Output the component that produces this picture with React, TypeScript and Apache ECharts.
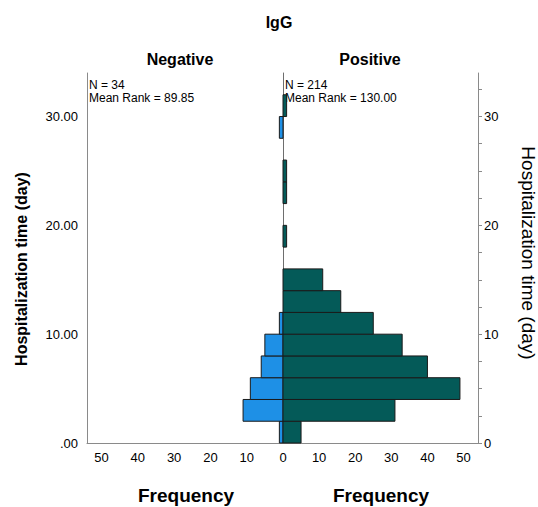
import React, { useEffect, useRef } from "react";
import * as echarts from "echarts";

// Histogram bins (days): each bin spans [start, start + 2)
const binStarts = [0, 2, 4, 6, 8, 10, 12, 14, 16, 18, 20, 22, 24, 26, 28, 30, 32];
const binWidth = 2;
const negativeCounts = [1, 11, 9, 6, 5, 1, 0, 0, 0, 0, 0, 0, 0, 0, 1, 0, 0];
const positiveCounts = [5, 31, 49, 40, 33, 25, 16, 11, 0, 1, 0, 1, 1, 0, 0, 1, 0];

const leftFreqTicks = [10, 20, 30, 40, 50];
const rightFreqTicks = [0, 10, 20, 30, 40, 50];
const leftDayTicks = [0, 10, 20, 30];
const rightDayLabels = [0, 10, 20, 30];
const rightDayTicks = [0, 2.5, 5, 7.5, 10, 12.5, 15, 17.5, 20, 22.5, 25, 27.5, 30, 32.5];

const negativeStats = ["N = 34", "Mean Rank = 89.85"];
const positiveStats = ["N = 214", "Mean Rank = 130.00"];

const FONT = "'Liberation Sans', Arial, sans-serif";
const AXIS_GREY = "#8a8a8a";

function buildData(counts: number[]) {
  return binStarts
    .map((s, i) => [s, s + binWidth, counts[i]])
    .filter((d) => d[2] > 0);
}

function renderBar(fill: string) {
  return (params: any, api: any) => {
    const y0 = api.value(0);
    const y1 = api.value(1);
    const c = api.value(2);
    const p0 = api.coord([0, y0]);
    const p1 = api.coord([c, y1]);
    const x = Math.min(p0[0], p1[0]);
    const y = Math.min(p0[1], p1[1]);
    return {
      type: "rect",
      shape: {
        x,
        y,
        width: Math.abs(p1[0] - p0[0]),
        height: Math.abs(p1[1] - p0[1]),
      },
      style: { fill, stroke: "#1a1a1a", lineWidth: 1 },
    };
  };
}

export default function App() {
  const ref = useRef<HTMLDivElement>(null);

  useEffect(() => {
    if (!ref.current) return;
    const chart = echarts.init(ref.current, null, { renderer: "svg" });

    const xBase = (gridIndex: number, inverse: boolean) => ({
      gridIndex,
      type: "value",
      min: 0,
      max: 54,
      interval: 10,
      inverse,
      axisLine: { show: true, onZero: false, lineStyle: { color: AXIS_GREY, width: 1 } },
      axisTick: { show: false },
      splitLine: { show: false },
      axisLabel: {
        color: "#000",
        fontSize: 13,
        fontFamily: FONT,
        margin: 8,
        customValues: inverse ? leftFreqTicks : rightFreqTicks,
      },
    });

    const statText = (x: number, lines: string[]) =>
      lines.map((t, i) => ({
        type: "text",
        x,
        y: 85 + i * 13,
        style: {
          text: t,
          fontSize: 12,
          fontFamily: FONT,
          fill: "#000",
          textAlign: "left",
          textVerticalAlign: "middle",
        },
      }));

    chart.setOption({
      animation: false,
      backgroundColor: "#fff",
      grid: [
        { left: 87, top: 73, width: 196, height: 370 },
        { left: 283, top: 73, width: 195, height: 370 },
      ],
      xAxis: [xBase(0, true), xBase(1, false)],
      yAxis: [
        {
          gridIndex: 0,
          type: "value",
          min: 0,
          max: 34,
          interval: 10,
          position: "left",
          axisLine: { show: true, onZero: false, lineStyle: { color: AXIS_GREY, width: 1 } },
          axisTick: { show: false },
          splitLine: { show: false },
          axisLabel: {
            color: "#000",
            fontSize: 13,
            fontFamily: FONT,
            margin: 9,
            customValues: leftDayTicks,
            formatter: (v: number) => (v === 0 ? ".00" : v.toFixed(2)),
          },
        },
        {
          gridIndex: 1,
          type: "value",
          min: 0,
          max: 34,
          interval: 2.5,
          position: "right",
          axisLine: { show: true, onZero: false, lineStyle: { color: AXIS_GREY, width: 1 } },
          axisTick: {
            show: true,
            length: 4,
            customValues: rightDayTicks,
            lineStyle: { color: AXIS_GREY },
          },
          splitLine: { show: false },
          axisLabel: {
            color: "#000",
            fontSize: 13,
            fontFamily: FONT,
            margin: 6,
            customValues: rightDayLabels,
            formatter: (v: number) => String(v),
          },
        },
        {
          gridIndex: 1,
          type: "value",
          min: 0,
          max: 34,
          position: "left",
          axisLine: { show: true, onZero: false, lineStyle: { color: "#6e6e6e", width: 1 } },
          axisTick: { show: false },
          axisLabel: { show: false },
          splitLine: { show: false },
        },
      ],
      series: [
        {
          type: "custom",
          name: "Negative",
          xAxisIndex: 0,
          yAxisIndex: 0,
          encode: { x: 2, y: [0, 1] },
          renderItem: renderBar("#1e90e6"),
          data: buildData(negativeCounts),
          z: 3,
        },
        {
          type: "custom",
          name: "Positive",
          xAxisIndex: 1,
          yAxisIndex: 1,
          encode: { x: 2, y: [0, 1] },
          renderItem: renderBar("#045a58"),
          data: buildData(positiveCounts),
          z: 3,
        },
      ],
      graphic: [
        {
          type: "text",
          x: 279,
          y: 22,
          style: {
            text: "IgG",
            fontSize: 16,
            fontWeight: "bold",
            fontFamily: FONT,
            fill: "#000",
            textAlign: "center",
            textVerticalAlign: "middle",
          },
        },
        {
          type: "text",
          x: 180,
          y: 59,
          style: {
            text: "Negative",
            fontSize: 16,
            fontWeight: "bold",
            fontFamily: FONT,
            fill: "#000",
            textAlign: "center",
            textVerticalAlign: "middle",
          },
        },
        {
          type: "text",
          x: 370,
          y: 59,
          style: {
            text: "Positive",
            fontSize: 16,
            fontWeight: "bold",
            fontFamily: FONT,
            fill: "#000",
            textAlign: "center",
            textVerticalAlign: "middle",
          },
        },
        ...statText(89, negativeStats),
        ...statText(285, positiveStats),
        {
          type: "text",
          x: 21,
          y: 269,
          rotation: Math.PI / 2,
          style: {
            text: "Hospitalization time (day)",
            fontSize: 16,
            fontWeight: "bold",
            fontFamily: FONT,
            fill: "#000",
            textAlign: "center",
            textVerticalAlign: "middle",
          },
        },
        {
          type: "text",
          x: 528,
          y: 253,
          rotation: -Math.PI / 2,
          style: {
            text: "Hospitalization time (day)",
            fontSize: 19,
            fontFamily: FONT,
            fill: "#000",
            textAlign: "center",
            textVerticalAlign: "middle",
          },
        },
        {
          type: "text",
          x: 186,
          y: 495,
          style: {
            text: "Frequency",
            fontSize: 19,
            fontWeight: "bold",
            fontFamily: FONT,
            fill: "#000",
            textAlign: "center",
            textVerticalAlign: "middle",
          },
        },
        {
          type: "text",
          x: 381,
          y: 495,
          style: {
            text: "Frequency",
            fontSize: 19,
            fontWeight: "bold",
            fontFamily: FONT,
            fill: "#000",
            textAlign: "center",
            textVerticalAlign: "middle",
          },
        },
      ],
    });

    return () => chart.dispose();
  }, []);

  return (
    <div
      ref={ref}
      style={{ position: "fixed", left: 0, top: 0, width: 538, height: 507 }}
    />
  );
}
